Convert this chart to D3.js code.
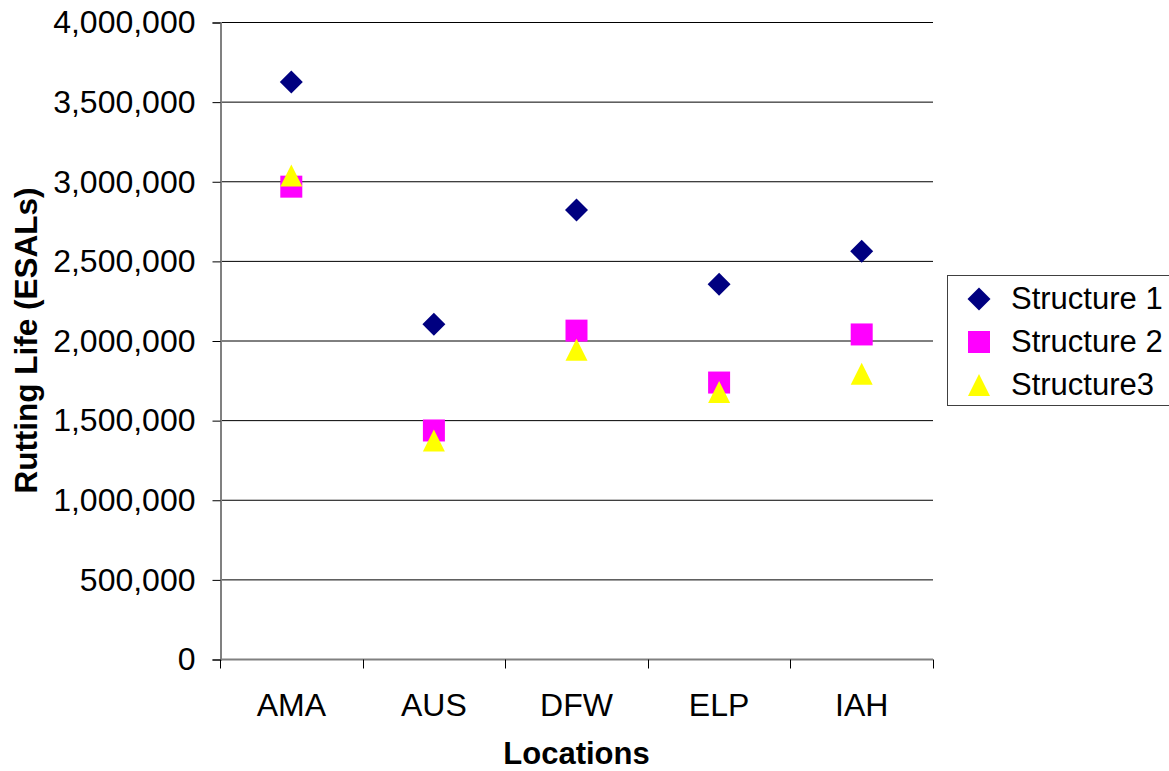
<!DOCTYPE html>
<html>
<head>
<meta charset="utf-8">
<script src="https://cdn.jsdelivr.net/npm/d3@7"></script>
<style>
  html, body { margin: 0; padding: 0; background: #fff; }
  svg { display: block; font-family: "Liberation Sans", Arial, sans-serif; }
</style>
</head>
<body>
<svg id="chart" width="1169" height="771"></svg>
<script>
// Rutting life by location for three pavement structures
const locations = ["AMA", "AUS", "DFW", "ELP", "IAH"];
const structure1 = [3623000, 2102000, 2819000, 2353000, 2560000];
const structure2 = [2966000, 1435000, 2062000, 1736000, 2038000];
const structure3 = [3036000, 1372000, 1942000, 1677000, 1791000];
const seriesNames = ["Structure 1", "Structure 2", "Structure3"];
const yTicks = [0, 500000, 1000000, 1500000, 2000000, 2500000, 3000000, 3500000, 4000000];

const series = [
  { name: seriesNames[0], values: structure1, shape: "diamond",  color: "#000080" },
  { name: seriesNames[1], values: structure2, shape: "square",   color: "#FF00FF" },
  { name: seriesNames[2], values: structure3, shape: "triangle", color: "#FFFF00" }
];

const svg = d3.select("#chart");
const plot = { left: 220, right: 933, top: 22, bottom: 659 };

const x = d3.scaleBand().domain(locations).range([plot.left, plot.right]).padding(0);
const y = d3.scaleLinear().domain([0, 4000000]).range([plot.bottom, plot.top]);

// horizontal gridlines
svg.append("g")
  .selectAll("line")
  .data(yTicks.filter(d => d > 0))
  .join("line")
  .attr("x1", plot.left).attr("x2", plot.right)
  .attr("y1", d => y(d) + 0.5).attr("y2", d => y(d) + 0.5)
  .attr("stroke", "#000").attr("stroke-width", 1);

// y axis
const fmt = d3.format(",");
const yAxis = svg.append("g")
  .attr("transform", `translate(${plot.left + 0.5},0.5)`)
  .call(d3.axisLeft(y).tickValues(yTicks).tickFormat(fmt).tickSize(8).tickPadding(17));
yAxis.select(".domain").attr("stroke", "#808080").attr("stroke-width", 2);
yAxis.selectAll(".tick line").attr("stroke", "#000");
yAxis.selectAll(".tick text")
  .attr("font-family", "Liberation Sans, Arial, sans-serif")
  .attr("font-size", 32).attr("fill", "#000");

// x axis with ticks at category boundaries
const xAxis = svg.append("g")
  .attr("transform", `translate(0,${plot.bottom + 0.5})`);
xAxis.append("line")
  .attr("x1", plot.left).attr("x2", plot.right)
  .attr("stroke", "#808080").attr("stroke-width", 2);
const bounds = locations.map(d => x(d)).concat([plot.right]);
xAxis.selectAll("line.tk")
  .data(bounds)
  .join("line").attr("class", "tk")
  .attr("x1", d => Math.round(d) + 0.5).attr("x2", d => Math.round(d) + 0.5)
  .attr("y1", 0).attr("y2", 9)
  .attr("stroke", "#000");
xAxis.selectAll("text")
  .data(locations)
  .join("text")
  .attr("x", d => x(d) + x.bandwidth() / 2)
  .attr("y", 56)
  .attr("text-anchor", "middle")
  .attr("font-size", 32)
  .text(d => d);

// axis titles
svg.append("text")
  .attr("x", (plot.left + plot.right) / 2)
  .attr("y", 764)
  .attr("text-anchor", "middle")
  .attr("font-size", 31).attr("font-weight", "bold")
  .text("Locations");
svg.append("text")
  .attr("transform", `translate(37,${(plot.top + plot.bottom) / 2}) rotate(-90)`)
  .attr("text-anchor", "middle")
  .attr("font-size", 31.5).attr("font-weight", "bold")
  .text("Rutting Life (ESALs)");

// marker symbols
const symbolFor = {
  diamond: d3.symbol().type(d3.symbolSquare).size(264),
  square: d3.symbol().type(d3.symbolSquare).size(484)
};
function markerPath(shape) {
  if (shape === "triangle") {
    // equal width/height triangle centred on its bounding box
    return "M0,-11L11,11L-11,11Z";
  }
  return symbolFor[shape]();
}
function markerTransform(shape, cx, cy) {
  return shape === "diamond" ? `translate(${cx},${cy}) rotate(45)` : `translate(${cx},${cy})`;
}

const cx = d => x(d) + x.bandwidth() / 2;
series.forEach(s => {
  svg.append("g")
    .selectAll("path")
    .data(locations.map((loc, i) => ({ loc, v: s.values[i] })))
    .join("path")
    .attr("d", markerPath(s.shape))
    .attr("transform", d => markerTransform(s.shape, cx(d.loc), y(d.v)))
    .attr("fill", s.color);
});

// legend
const legend = svg.append("g");
legend.append("rect")
  .attr("x", 947.5).attr("y", 275.5)
  .attr("width", 230).attr("height", 130)
  .attr("fill", "#fff").attr("stroke", "#404040").attr("stroke-width", 1);
const rows = [299, 342, 385];
series.forEach((s, i) => {
  legend.append("path")
    .attr("d", markerPath(s.shape))
    .attr("transform", markerTransform(s.shape, 979, rows[i]))
    .attr("fill", s.color);
  legend.append("text")
    .attr("x", 1011).attr("y", rows[i] + 10)
    .attr("font-size", 31)
    .text(s.name);
});
</script>
</body>
</html>
